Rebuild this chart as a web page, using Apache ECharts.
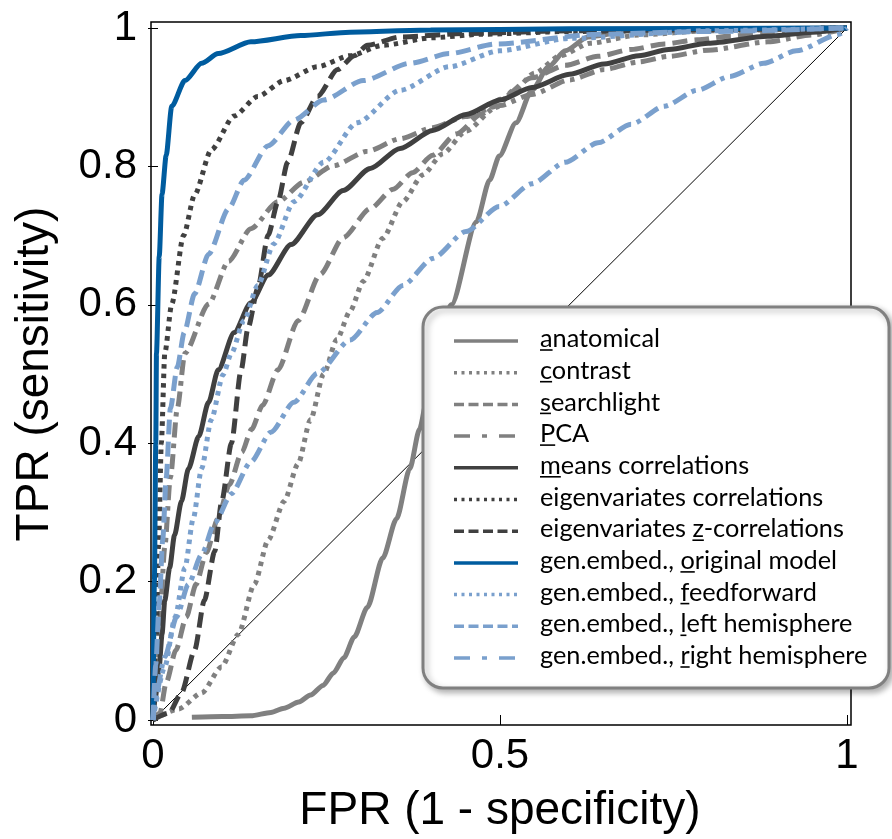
<!DOCTYPE html>
<html>
<head>
<meta charset="utf-8">
<script src="https://cdn.jsdelivr.net/npm/echarts@6/dist/echarts.min.js"></script>
<style>
  html, body { margin: 0; padding: 0; background: #fff; }
  #chart { width: 892px; height: 839px; }
</style>
</head>
<body>
<div id="chart"></div>
<script>
// ROC curves, [FPR, TPR]
const anatomical = [[0.056,0.004],[0.1,0.005],[0.141,0.006],[0.17,0.011],[0.189,0.017],[0.21,0.026],[0.227,0.036],[0.245,0.05],[0.26,0.068],[0.275,0.09],[0.29,0.12],[0.309,0.163],[0.331,0.234],[0.351,0.291],[0.37,0.363],[0.384,0.42],[0.394,0.459],[0.43,0.6],[0.466,0.72],[0.485,0.78],[0.499,0.815],[0.523,0.863],[0.546,0.91],[0.57,0.944],[0.594,0.967],[0.627,0.987],[0.689,0.996],[0.8,0.999],[1,1]];
const contrast = [[0,0],[0.037,0.016],[0.07,0.039],[0.099,0.077],[0.123,0.124],[0.146,0.196],[0.166,0.26],[0.189,0.316],[0.209,0.37],[0.227,0.434],[0.246,0.5],[0.265,0.55],[0.284,0.591],[0.303,0.634],[0.331,0.696],[0.36,0.749],[0.389,0.788],[0.417,0.818],[0.451,0.851],[0.494,0.885],[0.52,0.91],[0.55,0.935],[0.587,0.96],[0.63,0.978],[0.7,0.99],[0.8,0.996],[1,1]];
const searchlight = [[0,0],[0.01,0.01],[0.019,0.054],[0.033,0.101],[0.048,0.149],[0.062,0.196],[0.077,0.242],[0.093,0.29],[0.11,0.34],[0.128,0.387],[0.142,0.42],[0.158,0.455],[0.18,0.506],[0.209,0.577],[0.241,0.644],[0.274,0.697],[0.313,0.739],[0.346,0.767],[0.374,0.791],[0.403,0.816],[0.437,0.847],[0.474,0.876],[0.5,0.897],[0.546,0.928],[0.594,0.946],[0.641,0.959],[0.689,0.969],[0.737,0.977],[0.784,0.983],[0.831,0.988],[0.88,0.992],[0.93,0.995],[1,1]];
const pca = [[0,0],[0.005,0.07],[0.01,0.15],[0.017,0.25],[0.025,0.35],[0.035,0.45],[0.046,0.53],[0.08,0.601],[0.109,0.663],[0.141,0.71],[0.18,0.749],[0.217,0.777],[0.26,0.801],[0.309,0.822],[0.356,0.84],[0.403,0.856],[0.45,0.872],[0.5,0.888],[0.546,0.904],[0.6,0.925],[0.65,0.94],[0.7,0.951],[0.743,0.959],[0.8,0.968],[0.886,0.98],[0.95,0.99],[1,1]];
const meansCorr = [[0,0],[0.003,0.03],[0.009,0.077],[0.013,0.124],[0.017,0.173],[0.024,0.22],[0.031,0.267],[0.041,0.316],[0.051,0.363],[0.066,0.41],[0.08,0.459],[0.094,0.506],[0.117,0.56],[0.141,0.603],[0.166,0.643],[0.199,0.687],[0.237,0.73],[0.274,0.765],[0.313,0.797],[0.356,0.826],[0.403,0.852],[0.451,0.875],[0.5,0.896],[0.546,0.914],[0.6,0.933],[0.65,0.948],[0.7,0.96],[0.743,0.969],[0.8,0.978],[0.886,0.988],[0.95,0.994],[1,1]];
const eigCorr = [[0,0],[0.004,0.1],[0.008,0.25],[0.012,0.4],[0.017,0.53],[0.027,0.601],[0.044,0.7],[0.06,0.759],[0.084,0.824],[0.117,0.873],[0.151,0.901],[0.189,0.924],[0.237,0.944],[0.284,0.96],[0.331,0.975],[0.403,0.986],[0.474,0.991],[0.6,0.995],[0.8,0.998],[1,1]];
const eigZCorr = [[0,0],[0.023,0.01],[0.041,0.039],[0.06,0.101],[0.074,0.173],[0.089,0.244],[0.099,0.316],[0.113,0.4],[0.127,0.506],[0.137,0.567],[0.151,0.624],[0.166,0.701],[0.18,0.749],[0.194,0.806],[0.213,0.863],[0.237,0.901],[0.266,0.94],[0.29,0.96],[0.309,0.975],[0.356,0.987],[0.45,0.992],[0.6,0.996],[1,1]];
const original = [[0,0],[0.002,0.2],[0.004,0.4],[0.005,0.53],[0.009,0.67],[0.013,0.76],[0.019,0.816],[0.027,0.887],[0.046,0.924],[0.07,0.949],[0.094,0.963],[0.141,0.98],[0.213,0.989],[0.284,0.994],[0.4,0.997],[0.6,0.999],[1,1]];
const feedforward = [[0,0],[0.017,0.077],[0.032,0.149],[0.046,0.22],[0.058,0.291],[0.07,0.363],[0.084,0.434],[0.101,0.499],[0.113,0.53],[0.131,0.577],[0.151,0.628],[0.174,0.688],[0.203,0.749],[0.246,0.806],[0.294,0.863],[0.356,0.91],[0.427,0.944],[0.499,0.967],[0.6,0.985],[0.8,0.996],[1,1]];
const leftHemi = [[0,0],[0.004,0.08],[0.009,0.17],[0.014,0.26],[0.019,0.35],[0.025,0.45],[0.035,0.51],[0.045,0.56],[0.06,0.616],[0.08,0.673],[0.109,0.739],[0.131,0.78],[0.166,0.83],[0.203,0.867],[0.246,0.896],[0.303,0.924],[0.37,0.949],[0.427,0.963],[0.494,0.977],[0.641,0.991],[0.8,0.995],[1,1]];
const rightHemi = [[0,0],[0.003,0.03],[0.017,0.091],[0.034,0.149],[0.051,0.196],[0.07,0.239],[0.089,0.285],[0.113,0.327],[0.141,0.373],[0.17,0.416],[0.203,0.459],[0.237,0.501],[0.284,0.549],[0.323,0.589],[0.36,0.628],[0.403,0.667],[0.451,0.706],[0.499,0.742],[0.546,0.775],[0.594,0.806],[0.641,0.834],[0.689,0.861],[0.737,0.887],[0.784,0.91],[0.831,0.93],[0.88,0.949],[0.927,0.967],[0.989,0.991],[1,1]];
const chance = [[0,0],[1,1]];

const xTicks = [0, 0.5, 1];
const yTicks = [0, 0.2, 0.4, 0.6, 0.8, 1];

// label, index of underlined char (-1 = none)
const names = ['anatomical', 'contrast', 'searchlight', 'PCA', 'means correlations',
  'eigenvariates correlations', 'eigenvariates z-correlations', 'gen.embed., original model',
  'gen.embed., feedforward', 'gen.embed., left hemisphere', 'gen.embed., right hemisphere'];
const underlineAt = [0, 0, 0, 0, 0, -1, 14, 12, 12, 12, 12];
const curves = [anatomical, contrast, searchlight, pca, meansCorr, eigCorr, eigZCorr,
  original, feedforward, leftHemi, rightHemi];

const GRAY = '#808080', DARK = '#404040', BLUE = '#005c9f', LIGHT = '#7aa0cd';
const SOLID = 'solid', DOT = [4.5, 5], DASH = [15, 7], DASHDOT = [15, 6, 4.5, 6];
const LDOT = [3, 4.5], LDASH = [10, 4.5], LDASHDOT = [16, 12, 5, 12];
const styles = [
  [GRAY, SOLID, SOLID], [GRAY, DOT, LDOT], [GRAY, DASH, LDASH], [GRAY, DASHDOT, LDASHDOT],
  [DARK, SOLID, SOLID], [DARK, DOT, LDOT], [DARK, DASH, LDASH],
  [BLUE, SOLID, SOLID], [LIGHT, DOT, LDOT], [LIGHT, DASH, LDASH], [LIGHT, DASHDOT, LDASHDOT]
];

const myChart = echarts.init(document.getElementById('chart'));

const ctx = document.createElement('canvas').getContext('2d');
const LFONT = 'Lato';
function textW(s, size) {
  ctx.font = size + 'px ' + LFONT;
  return ctx.measureText(s).width;
}
const legendSize = Math.round(100 * 327 / textW('gen.embed., right hemisphere', 100) * 10) / 10;

const series = [{
  type: 'line',
  data: chance,
  showSymbol: false,
  symbol: 'none',
  silent: true,
  lineStyle: { color: '#000', width: 1 }
}];
curves.forEach((d, i) => {
  series.push({
    name: names[i],
    type: 'line',
    data: d,
    showSymbol: false,
    symbol: 'none',
    clip: false,
    silent: true,
    smooth: 0.25,
    smoothMonotone: 'x',
    lineStyle: { color: styles[i][0], width: 5, type: styles[i][1], cap: 'butt' }
  });
});

// legend drawn by hand (rounded box, dashed samples, underlined hot keys)
const LX = 423, LY = 307, LW = 466, LH = 381;
const legendEls = [{
  type: 'rect',
  shape: { x: LX, y: LY, width: LW, height: LH, r: 20 },
  style: {
    fill: '#fff', stroke: GRAY, lineWidth: 3,
    shadowBlur: 6, shadowOffsetX: 3, shadowOffsetY: 3, shadowColor: 'rgba(0,0,0,0.3)'
  },
  z: 100
}];
names.forEach((nm, i) => {
  const y = 341 + i * 31.7;
  legendEls.push({
    type: 'line',
    shape: { x1: 454, y1: y, x2: 518, y2: y },
    style: { stroke: styles[i][0], lineWidth: 3.5, lineDash: styles[i][2] === SOLID ? null : styles[i][2] },
    z: 101
  });
  legendEls.push({
    type: 'text',
    x: 540, y: y - 2,
    style: { text: nm, font: legendSize + 'px ' + LFONT, fill: '#000', verticalAlign: 'middle' },
    z: 101
  });
  const k = underlineAt[i];
  if (k >= 0) {
    const x0 = 540 + textW(nm.slice(0, k), legendSize);
    const x1 = 540 + textW(nm.slice(0, k + 1), legendSize);
    legendEls.push({
      type: 'line',
      shape: { x1: x0, y1: y + 9, x2: x1, y2: y + 9 },
      style: { stroke: '#000', lineWidth: 1.6 },
      z: 101
    });
  }
});

const tickStyle = { show: true, inside: true, length: 5, lineStyle: { color: '#000', width: 1 } };
const labelFont = { fontFamily: 'Liberation Sans', fontSize: 42, color: '#000' };

const option = {
  animation: false,
  backgroundColor: '#fff',
  grid: { left: 153, right: 45, top: 28, bottom: 117 },
  xAxis: [{
    type: 'value', min: 0, max: 1, interval: 0.5,
    name: 'FPR (1 - specificity)', nameLocation: 'middle', nameGap: 68,
    nameTextStyle: { fontFamily: 'Liberation Sans', fontSize: 46, color: '#000' },
    axisLine: { show: false }, axisTick: tickStyle, splitLine: { show: false },
    axisLabel: Object.assign({ margin: 15, formatter: v => xTicks.includes(v) ? String(v) : '' }, labelFont)
  }, {
    type: 'value', min: 0, max: 1, interval: 0.5, position: 'top',
    axisLine: { show: false }, axisTick: tickStyle, splitLine: { show: false }, axisLabel: { show: false }
  }],
  yAxis: [{
    type: 'value', min: 0, max: 1, interval: 0.2,
    name: 'TPR (sensitivity)', nameLocation: 'middle', nameGap: 95,
    nameTextStyle: { fontFamily: 'Liberation Sans', fontSize: 46, color: '#000' },
    axisLine: { show: false }, axisTick: tickStyle, splitLine: { show: false },
    axisLabel: Object.assign({ margin: 16, formatter: v => {
      const t = yTicks.find(s => Math.abs(s - v) < 1e-9);
      return t === undefined ? '' : String(t);
    } }, labelFont)
  }, {
    type: 'value', min: 0, max: 1, interval: 0.2, position: 'right',
    axisLine: { show: false }, axisTick: tickStyle, splitLine: { show: false }, axisLabel: { show: false }
  }],
  graphic: [{
    type: 'rect',
    shape: { x: 151, y: 22, width: 700, height: 703 },
    style: { fill: null, stroke: '#000', lineWidth: 1.5 },
    z: 1
  }].concat(legendEls),
  series: series
};

myChart.setOption(option);
</script>
</body>
</html>
